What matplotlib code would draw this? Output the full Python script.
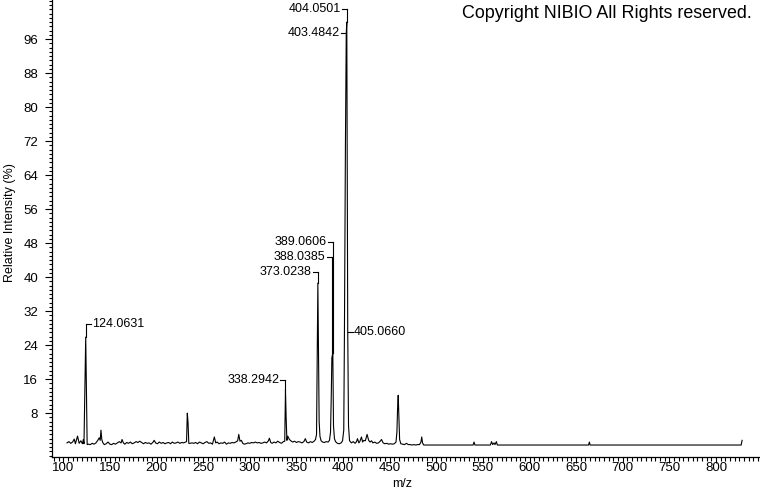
import numpy as np
import matplotlib.pyplot as plt
from matplotlib.ticker import MultipleLocator

plt.rcParams['font.family'] = ['Liberation Sans', 'DejaVu Sans']

# profile spectrum (m/z, relative intensity %)
mz = [104, 106, 108, 110, 111.7, 113, 115.3, 117, 118.8, 120.5, 121.5, 122.2,
      122.8, 123.6, 124.06, 124.8, 125.6,
      127, 129, 131, 133, 135, 137, 138.5, 139.6, 140.4, 141.3, 142.5, 144, 146, 148,
      150, 152, 154, 156, 158, 160, 162, 163, 164.5, 166, 168, 170, 172, 174, 176,
      178, 180, 182, 184, 186, 188, 190, 192, 194, 196, 197.5, 199, 201, 203, 205,
      207, 209, 211, 213, 215, 217, 219, 221, 223, 225, 227, 229, 231,
      232.2, 233.0, 233.8, 234.6,
      236, 238, 240, 242, 244, 246, 248, 250, 252, 254, 256, 258, 260, 262, 263.5,
      265, 267, 269, 271, 273, 275, 277, 279, 281, 283, 285, 287, 288.2, 289.5, 291,
      292.5, 294, 296, 298, 300, 302, 304, 306, 308, 310, 312, 314, 316, 318, 320,
      321, 322.5, 324, 326, 328, 330, 332, 334, 336, 337.5,
      338.29, 339.0, 339.8, 340.7, 341.6, 342.5, 344, 346, 348, 350, 352, 354, 356,
      358, 359.6, 361, 363, 365, 367, 369, 370.5, 371.6,
      372.3, 373.02, 373.7, 374.4, 375.3, 376.5, 378, 380, 382, 384, 385.5, 386.6,
      387.4, 388.04, 389.06, 389.8, 390.8, 392, 394, 396, 398, 399.5,
      400.8, 401.5, 402.6, 403.48, 404.05, 404.6, 405.07, 405.9, 407, 409, 411, 413,
      414.5, 415.5, 417, 418, 419.8, 421, 422.3, 424, 425.8, 427.5, 429, 430.6, 432,
      434, 436, 438, 439.5, 441.3, 443, 445, 447, 449, 451, 453, 455,
      456.8, 457.8, 458.5, 459.2, 459.9, 460.7, 462, 464, 466, 468, 470, 472, 474,
      476, 478, 480, 482, 483.6, 484.4, 485.3, 486.5,
      539.5, 540.5, 541.5, 558, 559.3, 560.5, 562, 563, 564.5, 565.5,
      663.3, 664.2, 665, 827, 828]
intensity = [1.0, 1.3, 0.9, 1.2, 1.9, 0.8, 2.6, 0.9, 1.5, 0.8, 1.8, 0.8,
             9.4, 20.2, 25.9, 14.1, 0.6,
             0.7, 0.6, 0.9, 0.7, 1.0, 1.6, 2.2, 1.6, 4.0, 1.8, 1.0, 0.6, 0.8, 1.2,
             0.7, 0.6, 0.9, 0.7, 1.0, 1.3, 1.0, 1.8, 1.0, 0.7, 1.1, 0.9, 1.2, 0.8, 1.0,
             1.3, 1.1, 1.4, 1.1, 0.8, 1.1, 0.9, 1.0, 0.7, 1.1, 1.6, 1.0, 0.8, 1.2, 0.9,
             1.1, 0.8, 1.0, 1.1, 0.8, 1.2, 0.9, 1.0, 1.2, 0.9, 1.1, 1.0, 1.2,
             1.3, 8.0, 5.8, 0.9,
             0.9, 1.0, 0.9, 1.1, 0.8, 1.2, 1.0, 0.8, 1.1, 1.3, 0.9, 1.0, 0.7, 2.4, 1.0,
             1.2, 0.8, 1.0, 0.9, 1.2, 0.7, 1.0, 0.9, 1.1, 1.0, 1.2, 1.5, 3.0, 1.4, 1.6,
             0.9, 0.7, 0.8, 1.0, 0.9, 1.1, 1.0, 1.2, 1.0, 1.1, 0.9, 1.0, 1.2, 1.0, 1.5,
             2.1, 1.1, 0.9, 1.2, 1.0, 1.4, 1.1, 0.9, 1.3, 1.4,
             13.5, 7.0, 1.6, 2.6, 2.2, 1.8, 1.5, 1.2, 1.4, 1.1, 1.3, 1.2, 1.0,
             1.3, 2.0, 1.2, 1.0, 1.3, 1.1, 1.4, 1.8, 3.0,
             20.0, 38.6, 23.5, 6.0, 2.5, 1.5, 1.2, 1.1, 1.3, 1.2, 1.6, 3.5,
             12.0, 21.0, 22.1, 5.0, 2.0, 1.3, 0.9, 0.8, 1.0, 1.5,
             4.0, 26.0, 71.5, 97.4, 100.0, 62.0, 27.0, 5.0, 1.5, 1.0, 1.3, 0.9,
             1.3, 2.0, 1.0, 1.3, 2.4, 1.2, 1.6, 1.5, 3.0, 1.6, 1.2, 1.5, 1.0,
             1.2, 0.9, 1.0, 1.3, 1.8, 1.0, 0.8, 0.9, 0.7, 0.8, 0.7, 0.8,
             1.2, 3.5, 9.0, 12.2, 7.5, 1.8, 0.8, 0.7, 0.6, 0.9, 0.6, 0.6, 0.5,
             0.6, 0.5, 0.6, 0.6, 1.2, 2.4, 1.0, 0.5,
             0.5, 1.2, 0.5, 0.5, 1.3, 0.6, 1.0, 0.6, 1.3, 0.5,
             0.5, 1.2, 0.5, 0.5, 1.6]

# labelled peaks
peak_labels = ["124.0631", "338.2942", "373.0238", "388.0385",
               "389.0606", "404.0501", "403.4842", "405.0660"]
peak_mz = [124.06, 338.29, 373.02, 388.04, 389.06, 404.05, 403.48, 405.07]
peak_top = [25.9, 13.5, 38.6, 21.0, 22.1, 100.0, 97.4, 27.0]


def label_peak(ax, x, top, y, text, side, bracket):
    dx = 5.4  # about 5 px in m/z units
    if side == 'left':
        x_end, tx, ha = x - dx, x - dx - 1.3, 'right'
    else:
        x_end, tx, ha = x + dx, x + dx + 1.3, 'left'
    ax.plot([x_end, x], [y, y], color='black', lw=0.8)
    if bracket:
        ax.plot([x, x], [y, top], color='black', lw=0.8)
    ax.text(tx, y, text, ha=ha, va='center', fontsize=9)


fig = plt.figure(figsize=(7.6, 4.92), dpi=100)
ax = fig.add_axes([52 / 760, 35.5 / 492, 708 / 760, 456.5 / 492])
ax.plot(mz, intensity, color='black', lw=0.8)

# label layout: (height of label in %, side, bracket down to peak)
layout = [(28.9, 'right', True), (15.8, 'left', True), (41.2, 'left', True),
          (44.7, 'left', True), (48.2, 'left', True), (103.0, 'left', True),
          (97.4, 'left', False), (27.0, 'right', False)]
for lbl, x, top, (y, side, br) in zip(peak_labels, peak_mz, peak_top, layout):
    label_peak(ax, x, top, y, lbl, side, br)

ax.set_xlim(87.9, 847.2)
ax.set_ylim(-2.2, 105.2)
for s in ['top', 'right']:
    ax.spines[s].set_visible(False)
for s in ['left', 'bottom']:
    ax.spines[s].set_linewidth(0.9)

ax.set_xticks(np.arange(100, 801, 50))
ax.xaxis.set_minor_locator(MultipleLocator(5))
ax.set_yticks(np.arange(8, 97, 8))
ax.yaxis.set_minor_locator(MultipleLocator(1))
ax.tick_params(axis='x', which='major', length=4.5, width=0.8, pad=-0.5, labelsize=9.5)
ax.tick_params(axis='x', which='minor', length=3, width=0.8)
ax.tick_params(axis='y', which='major', length=5, width=0.8, pad=5, labelsize=9.5)
ax.tick_params(axis='y', which='minor', length=2.5, width=0.8)

fig.text(402 / 760, 1 - 484 / 492, 'm/z', ha='center', va='center', fontsize=9)
fig.text(10 / 760, 1 - 223 / 492, 'Relative Intensity (%)', ha='center', va='center',
         rotation=90, fontsize=9)
fig.text(752 / 760, 1 - 14 / 492, 'Copyright NIBIO All Rights reserved.',
         ha='right', va='center', fontsize=12.9)

fig.savefig('out.png', dpi=100)
